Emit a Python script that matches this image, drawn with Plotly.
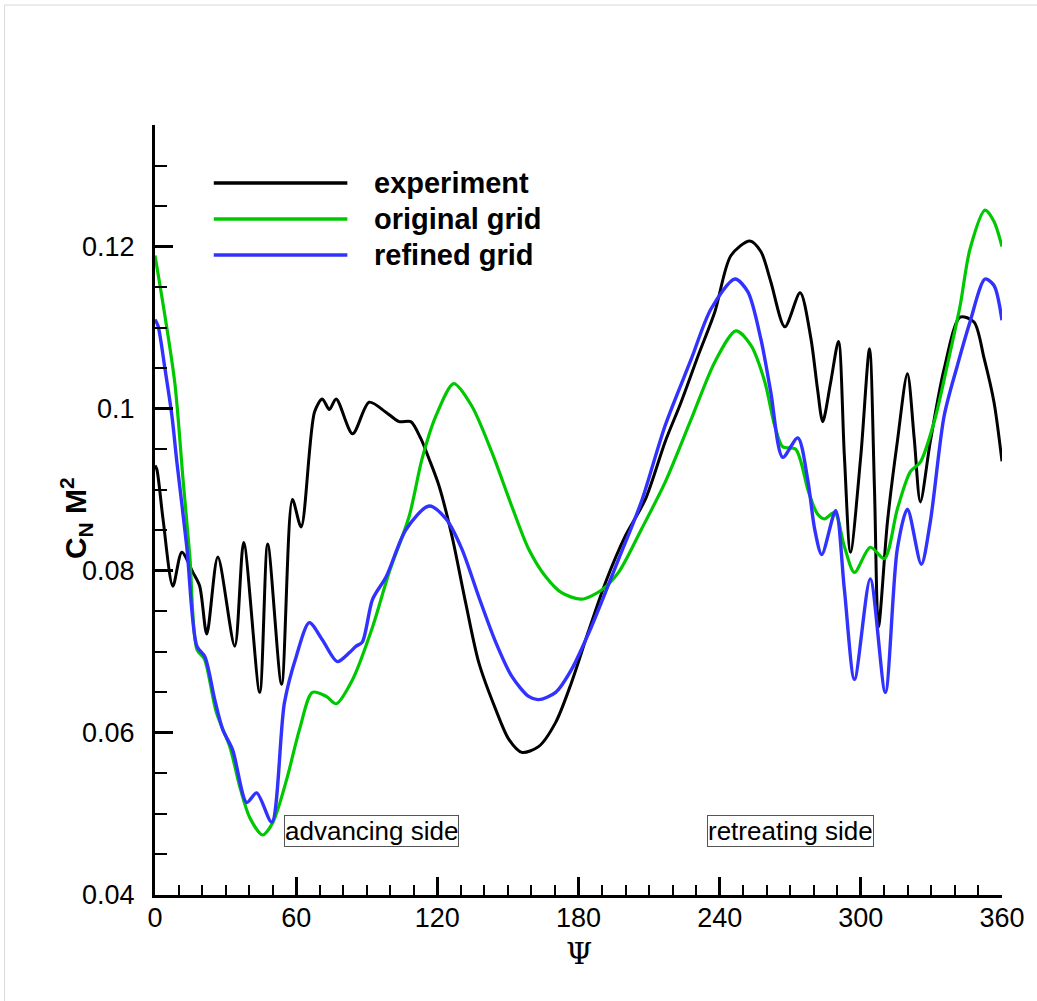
import plotly.graph_objects as go

# ---------------- data ----------------
exp_psi = [0, 0.8, 3.4, 7.6, 11.4, 16.1, 19, 22, 26.7, 33.9, 37.7, 44.5, 47.9, 53.8, 58.4,
           62.1, 67.8, 71.1, 74.1, 77, 84, 91, 98, 103.8, 108.7, 113, 116.5, 120.7, 126.2, 132,
           137.6, 144.8, 150.4, 155.9, 163, 170.3, 177, 184.2, 191.4, 199.9, 208.4, 216.8, 223.6,
           230.8, 238, 244.8, 252.8, 257.5, 261.7, 267.7, 274.2, 278.7, 281.6, 283.8, 287.2,
           290.5, 293, 295.6, 300, 303.7, 305.8, 307.5, 311.3, 315.5, 319.8, 322.7, 325.3, 329.5,
           335.4, 342.2, 348.1, 352.4, 356.6, 360]
exp_cn = [0.0930, 0.0925, 0.0864, 0.0781, 0.0823, 0.0798, 0.0781, 0.0722, 0.0817, 0.0707,
          0.0835, 0.0650, 0.0833, 0.0660, 0.0888, 0.0854, 0.0996, 0.1012, 0.0999, 0.1012,
          0.0969, 0.1008, 0.0996, 0.0984, 0.0984, 0.0963, 0.0938, 0.0905, 0.0843, 0.0761,
          0.0687, 0.0629, 0.0592, 0.0576, 0.0583, 0.0613, 0.0662, 0.0725, 0.0785, 0.0843,
          0.0888, 0.0959, 0.1008, 0.1065, 0.1120, 0.1189, 0.1207, 0.1194, 0.1157, 0.1101,
          0.1143, 0.1088, 0.1024, 0.0984, 0.1033, 0.1083, 0.0942, 0.0823, 0.0942, 0.1074,
          0.0901, 0.0731, 0.0860, 0.0959, 0.1043, 0.0963, 0.0885, 0.0959, 0.1049, 0.1113,
          0.1107, 0.1062, 0.1008, 0.0935]

orig_psi = [0, 4.2, 8.5, 11.9, 14.8, 17.8, 21, 26.1, 31.8, 36, 40.2, 45.7, 50, 55.9, 61.4,
            66.9, 72.8, 77, 84, 92.5, 99.5, 108, 113.5, 119.4, 127, 134.7, 143.2, 151.6, 158.8,
            166, 172.8, 181.3, 189.7, 197, 206.7, 216.8, 227.9, 238, 246.9, 253.3, 259.2, 263.4,
            266.8, 272.3, 277.8, 281.6, 284.5, 288.9, 293, 297.3, 304, 310, 315.5, 321, 325.3,
            331.2, 336.7, 342.2, 346.4, 352.8, 356.6, 360]
orig_cn = [0.1189, 0.1115, 0.1030, 0.0913, 0.0818, 0.0703, 0.0691, 0.0625, 0.0583, 0.0534,
           0.0496, 0.0474, 0.0489, 0.0542, 0.0604, 0.0650, 0.0645, 0.0636, 0.0666, 0.0731,
           0.0798, 0.0867, 0.0938, 0.0991, 0.1031, 0.1003, 0.0946, 0.0880, 0.0827, 0.0793,
           0.0773, 0.0765, 0.0776, 0.0798, 0.0851, 0.0909, 0.0987, 0.1058, 0.1096, 0.1078,
           0.1033, 0.0979, 0.0953, 0.0950, 0.0897, 0.0870, 0.0864, 0.0872, 0.0830, 0.0798,
           0.0829, 0.0815, 0.0876, 0.0922, 0.0934, 0.0984, 0.1053, 0.1127, 0.1197, 0.1245,
           0.1231, 0.1200]

ref_psi = [0, 1.3, 4.2, 7.2, 9.3, 13.5, 17.8, 21.2, 25.4, 28.8, 33, 39, 43.2, 49.6, 55, 60,
           65.6, 71.1, 77.5, 82.6, 85.5, 88.1, 92.5, 98.3, 106.7, 116.5, 123.7, 130.4, 137.6,
           144.8, 151.6, 158.8, 163, 170.3, 177, 185.5, 197, 206.7, 216.8, 227.9, 236.3, 246.5,
           252, 257.5, 261.7, 266.8, 273.2, 277.4, 280.4, 283.4, 289.3, 293, 297.3, 304, 310.4,
           315.5, 319.8, 325.7, 329.5, 335.4, 341, 346.4, 352.8, 356.6, 360]
ref_cn = [0.1110, 0.1102, 0.1050, 0.0991, 0.0934, 0.0830, 0.0707, 0.0694, 0.0641, 0.0604,
          0.0579, 0.0514, 0.0526, 0.0490, 0.0637, 0.0694, 0.0736, 0.0715, 0.0688, 0.0699,
          0.0707, 0.0712, 0.0765, 0.0793, 0.0851, 0.0880, 0.0864, 0.0827, 0.0768, 0.0712,
          0.0670, 0.0645, 0.0641, 0.0650, 0.0678, 0.0731, 0.0814, 0.0885, 0.0979, 0.1061,
          0.1123, 0.1160, 0.1144, 0.1086, 0.1021, 0.0940, 0.0964, 0.0913, 0.0851, 0.0820,
          0.0874, 0.0777, 0.0666, 0.0790, 0.0650, 0.0827, 0.0876, 0.0808, 0.0860, 0.0991,
          0.1053, 0.1107, 0.1160, 0.1152, 0.1109]

series_names = ["experiment", "original grid", "refined grid"]
series_colors = ["#000000", "#00C800", "#3232FF"]
x_ticks = [0, 60, 120, 180, 240, 300, 360]

FONT = "Liberation Sans, Arial, Helvetica, sans-serif"

fig = go.Figure()
for psi, cn, name, col, w in [
    (exp_psi, exp_cn, series_names[0], series_colors[0], 3.0),
    (orig_psi, orig_cn, series_names[1], series_colors[1], 3.2),
    (ref_psi, ref_cn, series_names[2], series_colors[2], 3.4),
]:
    fig.add_trace(go.Scatter(x=psi, y=cn, mode="lines", name=name,
                             line=dict(color=col, width=w, shape="spline", smoothing=0.8),
                             showlegend=False))

# legend drawn manually (long sample lines as in the reference)
leg_y = [0.9247, 0.8779, 0.8312]
shapes = []
annotations = []
for name, col, yy in zip(series_names, series_colors, leg_y):
    shapes.append(dict(type="line", xref="paper", yref="paper", x0=0.0694, x1=0.2271,
                       y0=yy, y1=yy, line=dict(color=col, width=3.5)))
    annotations.append(dict(xref="paper", yref="paper", x=0.2565, y=yy, text="<b>%s</b>" % name,
                            showarrow=False, xanchor="left", yanchor="middle",
                            font=dict(family=FONT, size=29, color="black")))

# light frame lines (top and left)
shapes.append(dict(type="line", xref="paper", yref="paper", x0=-0.1776, x1=1.05,
                   y0=1.1558, y1=1.1558, line=dict(color="#d8d8d8", width=1)))
shapes.append(dict(type="line", xref="paper", yref="paper", x0=-0.1776, x1=-0.1776,
                   y0=1.1558, y1=-0.14, line=dict(color="#d8d8d8", width=1)))

for txt, xx in [("advancing side", 91.9), ("retreating side", 270)]:
    annotations.append(dict(x=xx, y=0.04785, xref="x", yref="y", text=txt, showarrow=False,
                            font=dict(family=FONT, size=26, color="black"),
                            bordercolor="#555555", borderwidth=1, borderpad=0,
                            bgcolor="white", xanchor="center", yanchor="middle"))

annotations.append(dict(xref="paper", yref="paper", x=-0.094, y=0.49, textangle=-90,
                        text="<b>C<sub>N</sub> M<sup>2</sup></b>", showarrow=False,
                        xanchor="center", yanchor="middle",
                        font=dict(family=FONT, size=30, color="black")))
annotations.append(dict(xref="x", yref="paper", x=180, y=-0.076, text="Ψ", showarrow=False,
                        xanchor="center", yanchor="middle",
                        font=dict(family="DejaVu Serif, serif", size=30, color="black")))

fig.update_layout(
    width=1037, height=1001,
    margin=dict(l=155, r=30, t=125, b=106),
    paper_bgcolor="white", plot_bgcolor="white",
    shapes=shapes, annotations=annotations,
    font=dict(family=FONT, size=26, color="black"),
)
fig.update_xaxes(range=[0, 360], tickmode="array", tickvals=x_ticks,
                 ticks="inside", ticklen=18, tickwidth=3, tickcolor="black",
                 showline=True, linewidth=3, linecolor="black", showgrid=False, zeroline=False,
                 tickfont=dict(family=FONT, size=27, color="black"), ticklabelstandoff=-3,
                 minor=dict(dtick=10, tick0=0, ticks="inside", ticklen=10, tickwidth=1.5,
                            tickcolor="black", showgrid=False))
fig.update_yaxes(range=[0.04, 0.135], tickmode="linear", tick0=0.04, dtick=0.02,
                 ticks="inside", ticklen=18, tickwidth=3, tickcolor="black",
                 showline=True, linewidth=3, linecolor="black", showgrid=False, zeroline=False,
                 tickfont=dict(family=FONT, size=27, color="black"), ticklabelstandoff=12,
                 minor=dict(dtick=0.005, tick0=0.04, ticks="inside", ticklen=12, tickwidth=1.5,
                            tickcolor="black", showgrid=False))

fig.write_html("out.html")
